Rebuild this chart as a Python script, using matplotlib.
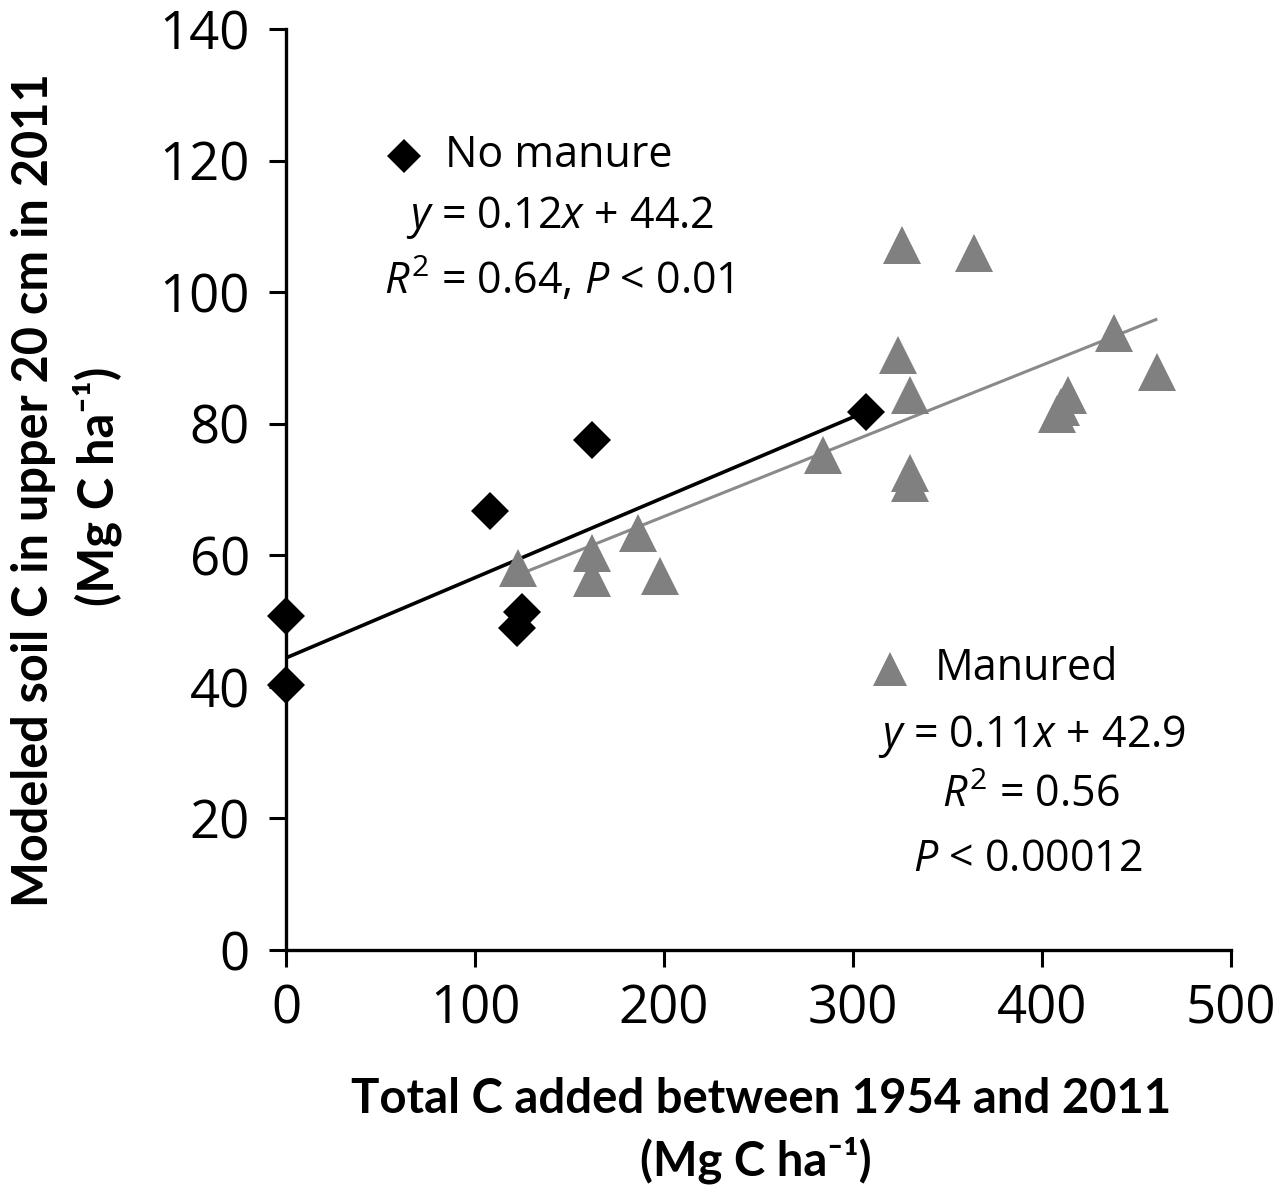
import matplotlib
matplotlib.use("Agg")
import matplotlib.pyplot as plt

# 数据：从原图读取
no_manure_x = [0, 0, 108, 122, 125, 162, 307]
no_manure_y = [50.8, 40.3, 66.7, 48.9, 51.4, 77.5, 81.8]

manured_x = [123, 162, 162, 186, 198, 284, 324, 326, 330, 330, 330, 364,
             408, 410, 414, 438, 461]
manured_y = [58.0, 60.3, 56.5, 63.4, 56.8, 75.2, 90.4, 107.1, 84.3, 72.5,
             71.0, 106.0, 81.5, 82.5, 84.3, 93.8, 87.8]

# 趋势线 (斜率, 截距, x 起点, x 终点)
fit_no_manure = (0.122, 44.4, 0, 307)
fit_manured = (0.115, 42.9, 123, 461)

x_ticks = [0, 100, 200, 300, 400, 500]
y_ticks = [0, 20, 40, 60, 80, 100, 120, 140]

W, H = 1286, 1187
plt.rcParams["mathtext.fontset"] = "custom"
plt.rcParams["mathtext.rm"] = "Open Sans"
plt.rcParams["mathtext.it"] = "Open Sans:italic"

fig = plt.figure(figsize=(W / 100, H / 100), dpi=100)
ax = fig.add_axes([286 / W, 1 - 950 / H, (1231 - 286) / W, (950 - 29) / H])

for fit, col, lw in [(fit_no_manure, "black", 2.6),
                     (fit_manured, "#8a8a8a", 2.2)]:
    k, b, x0, x1 = fit
    ax.plot([x0, x1], [k * x0 + b, k * x1 + b], color=col, lw=lw,
            solid_capstyle="butt", zorder=2)

ax.plot(manured_x, manured_y, "^", ms=27, color="#808080", mew=0,
        clip_on=False, zorder=3)
ax.plot(no_manure_x, no_manure_y, "D", ms=19.5, color="black", mew=0,
        clip_on=False, zorder=4)

ax.set_xlim(0, 500)
ax.set_ylim(0, 140)
ax.set_xticks(x_ticks)
ax.set_yticks(y_ticks)
for s in ["top", "right"]:
    ax.spines[s].set_visible(False)
for s in ["left", "bottom"]:
    ax.spines[s].set_linewidth(2.4)
ax.tick_params(direction="out", length=12, width=2.2, labelsize=38)
ax.tick_params(axis="x", pad=12)
ax.tick_params(axis="y", pad=14)
for lab in ax.get_xticklabels() + ax.get_yticklabels():
    lab.set_fontfamily("Open Sans")

# 图内注释
tfont = dict(fontsize=31, family="Open Sans")
ax.plot([62.4], [120.7], "D", ms=17, color="black", mew=0)
ax.text(84.1, 120.8, "No manure", va="center", ha="left", **tfont)
ax.text(144.8, 111.4, r"$y$ = 0.12$x$ + 44.2", va="center", ha="center", **tfont)
ax.text(144.4, 101.8, r"$R^2$ = 0.64, $P$ < 0.01", va="center", ha="center", **tfont)

ax.plot([319.6], [42.7], "^", ms=24, color="#808080", mew=0)
ax.text(343.4, 42.7, "Manured", va="center", ha="left", **tfont)
ax.text(394.7, 32.5, r"$y$ = 0.11$x$ + 42.9", va="center", ha="center", **tfont)
ax.text(394.2, 23.4, r"$R^2$ = 0.56", va="center", ha="center", **tfont)
ax.text(392.6, 13.7, r"$P$ < 0.00012", va="center", ha="center", **tfont)

# 轴标题
lfam = ["Lato", "DejaVu Sans"]
fig.text(761 / W, 1 - 1113 / H, "Total C added between 1954 and 2011",
         ha="center", va="baseline", fontsize=34, fontweight="bold", family=lfam)
fig.text(756 / W, 1 - 1176 / H, "(Mg C ha\u207b\u00b9)",
         ha="center", va="baseline", fontsize=34, fontweight="bold", family=lfam)

fig.text(34 / W, 1 - 490 / H, "Modeled soil C in upper 20 cm in 2011",
         ha="center", va="center", rotation=90, fontsize=35,
         fontweight="bold", family=lfam)
fig.text(97 / W, 1 - 486 / H, "(Mg C ha\u207b\u00b9)",
         ha="center", va="center", rotation=90, fontsize=35,
         fontweight="bold", family=lfam)

fig.savefig("out.png", dpi=100)
